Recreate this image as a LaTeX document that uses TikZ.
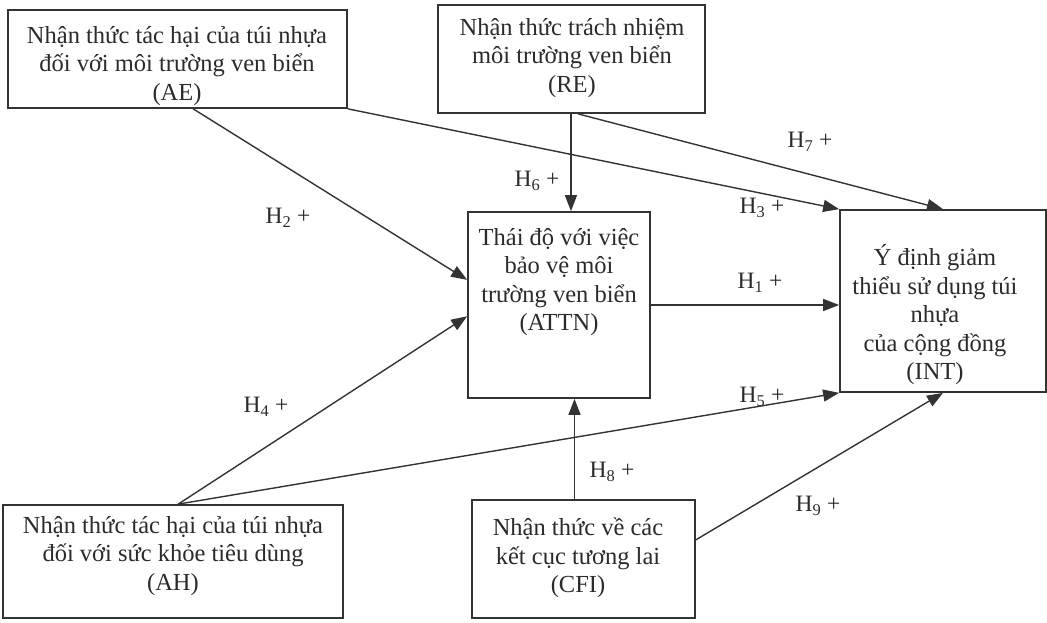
\documentclass[tikz,border=0pt]{standalone}
\usepackage{fontspec}
\setmainfont{Liberation Serif}
\usetikzlibrary{arrows.meta,calc}
\definecolor{ink}{HTML}{2B2B2B}
\definecolor{linec}{HTML}{333333}
\tikzset{
  box/.style={draw=linec, line width=1.7pt, rectangle, inner sep=0pt},
  txt/.style={align=center, text=ink, font=\fontsize{24.5}{28.5}\selectfont, inner sep=0pt},
  hyp/.style={text=ink, font=\fontsize{23.5}{28}\selectfont, inner sep=0pt},
  conn/.style={draw=linec, line width=1.4pt, -{Triangle[length=16pt,width=12pt]}},
  plain/.style={draw=linec, line width=1.4pt}
}
\begin{document}
\begin{tikzpicture}[x=1pt,y=-1pt]
\useasboundingbox (0,0) rectangle (1047,623);
% boxes
\node[box, minimum width=339pt, minimum height=98pt] (AE) at (177.5,59) {};
\node[box, minimum width=267pt, minimum height=108pt] (RE) at (571.5,59) {};
\node[box, minimum width=182pt, minimum height=186pt] (ATTN) at (559,305) {};
\node[box, minimum width=206pt, minimum height=182pt] (INT) at (943,301) {};
\node[box, minimum width=340pt, minimum height=113pt] (AH) at (173,561.5) {};
\node[box, minimum width=223pt, minimum height=118pt] (CFI) at (583.5,559) {};
% texts
\node[txt] (AEt) at (177,66) {Nhận thức tác hại của túi nhựa\\đối với môi trường ven biển\\(AE)};
\node[txt] (REt) at (572,58) {Nhận thức trách nhiệm\\môi trường ven biển\\(RE)};
\node[txt] (ATTNt) at (559,282) {Thái độ với việc\\bảo vệ môi\\trường ven biển\\(ATTN)};
\node[txt] (INTt) at (935,315) {Ý định giảm\\thiểu sử dụng túi\\nhựa\\của cộng đồng\\(INT)};
\node[txt] (AHt) at (173,556) {Nhận thức tác hại của túi nhựa\\đối với sức khỏe tiêu dùng\\(AH)};
\node[txt] (CFIt) at (578,558) {Nhận thức về các\\kết cục tương lai\\(CFI)};
% connectors
\draw[conn] ($(AE.south west)!0.546!(AE.south east)$) -- ($(ATTN.north west)!0.366!(ATTN.south west)$);
\draw[conn] (AE.south east) -- (INT.north west);
\coordinate (REs) at ($(RE.south west)!0.498!(RE.south east)$);
\draw[conn] (REs) -- (REs |- ATTN.north);
\draw[conn] ($(RE.south west)!0.524!(RE.south east)$) -- (INT.north);
\draw[conn] (ATTN.east) -- (ATTN.east -| INT.west);
\coordinate (AHn) at ($(AH.north west)!0.515!(AH.north east)$);
\draw[conn] (AHn) -- ($(ATTN.north west)!0.56!(ATTN.south west)$);
\draw[conn] (AHn) -- (INT.south west);
\coordinate (CFIn) at ($(CFI.north west)!0.46!(CFI.north east)$);
\draw[conn] (CFIn) -- (CFIn |- ATTN.south);
\draw[conn] ($(CFI.north east)!0.34!(CFI.south east)$) -- (INT.south);
% labels
\node[hyp] (L2) at (288,218) {H\textsubscript{2} +};
\node[hyp] (L3) at (762,208) {H\textsubscript{3} +};
\node[hyp] (L6) at (537,181) {H\textsubscript{6} +};
\node[hyp] (L7) at (810,142) {H\textsubscript{7} +};
\node[hyp] (L1) at (760,283) {H\textsubscript{1} +};
\node[hyp] (L4) at (266,407) {H\textsubscript{4} +};
\node[hyp] (L5) at (762,397) {H\textsubscript{5} +};
\node[hyp] (L8) at (612,472) {H\textsubscript{8} +};
\node[hyp] (L9) at (818,506) {H\textsubscript{9} +};
\end{tikzpicture}
\end{document}
